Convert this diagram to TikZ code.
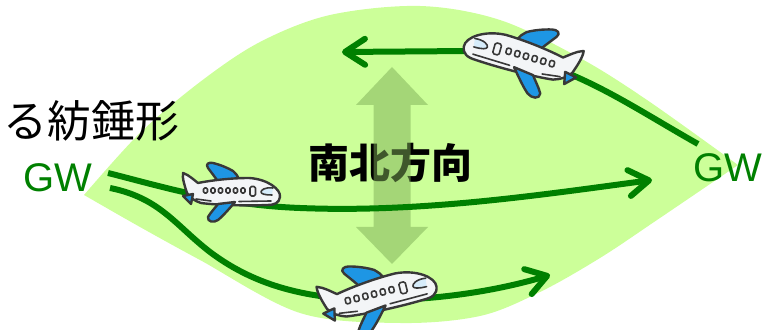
\documentclass[tikz,border=0pt]{standalone}
\usepackage{fontspec}
\setmainfont{Liberation Sans}
\newfontfamily\jpfont{Noto Sans CJK JP}
\usetikzlibrary{arrows.meta}

\definecolor{leaf}{RGB}{204,255,153}
\definecolor{route}{RGB}{0,128,0}
\definecolor{nsgreen}{RGB}{126,175,87}
\definecolor{hull}{RGB}{243,245,247}
\definecolor{ink}{RGB}{56,56,56}
\definecolor{wingblue}{RGB}{30,150,228}
\definecolor{glass}{RGB}{214,236,250}

\tikzset{
  outl/.style={draw=ink, line width=1.2pt, line join=round, line cap=round},
  wingc/.style={outl, fill=wingblue},
  hullc/.style={outl, fill=hull},
  detail/.style={draw=ink, line width=0.8pt, line cap=round, line join=round},
  routeline/.style={draw=route, line width=3pt,
    -{Straight Barb[length=10pt,width=13pt,round]}},
  gw/.style={text=route, font=\fontsize{20}{24}\selectfont, inner sep=0pt},
  % cartoon airliner, nose to the right, local units = pixels, y downwards
  plane/.pic={
    % far wing, behind the hull
    \path[wingc] (-12,-9) .. controls (-16,-15) and (-20,-20) .. (-23,-24)
       .. controls (-26,-28) and (-22,-30) .. (-18,-29)
       .. controls (-10,-27) and (-3,-24) .. (2,-21)
       .. controls (5,-18) and (7,-16) .. (8,-13) -- cycle;
    % hull with tail fin
    \path[hullc] (-48,-19)
       .. controls (-42,-17) and (-37,-12) .. (-33,-9)
       .. controls (-18,-12) and (2,-14) .. (18,-14)
       .. controls (36,-13) and (50,-3) .. (49,5)
       .. controls (48,11) and (44,13) .. (36,13)
       .. controls (15,14) and (-15,13) .. (-30,11)
       .. controls (-36,9) and (-41,6) .. (-44,1)
       .. controls (-46,-5) and (-49,-14) .. (-48,-19) -- cycle;
    % tail stabiliser
    \path[wingc] (-48,4) -- (-38,2) -- (-40,12) -- cycle;
    % near wing
    \path[wingc] (4,10) .. controls (-2,17) and (-8,24) .. (-13,28)
       .. controls (-17,31) and (-24,30) .. (-23,25)
       .. controls (-20,20) and (-16,16) .. (-13,12) -- cycle;
    % cabin windows and door
    \foreach \k in {0,...,5}
      \draw[detail, fill=hull, rounded corners=0.6pt] (-27.5+7.5*\k,-4) rectangle +(4,5);
    \draw[detail, fill=hull, rounded corners=0.8pt] (19,-5.5) rectangle (24.5,4);
    % cockpit glass
    \path[detail, fill=glass] (42,-4) .. controls (34,-5) and (30,-2) .. (30,0)
       .. controls (30,2) and (34,3) .. (41,3);
    % panel lines
    \draw[detail] (-35,7) -- (-20,9);
    \draw[detail] (8,9.5) -- (40,9);
  }
}

\begin{document}
\begin{tikzpicture}[x=0.5pt,y=-0.5pt]
\useasboundingbox (0,0) rectangle (776,330);

% spindle-shaped region
\fill[leaf]
  plot[smooth, tension=0.55] coordinates {(84,195) (140,133) (200,82) (260,42)
      (330,15) (420,6) (500,20) (580,58) (647,100) (738,165)}
  -- plot[smooth, tension=0.55] coordinates {(738,165) (657,220) (600,258)
      (540,292) (480,316) (400,323) (300,313) (200,260) (140,227) (84,195)}
  -- cycle;

% labels
\node[anchor=west, inner sep=0pt, font=\jpfont\fontsize{22}{26}\selectfont]
  (title) at (3,121) {る紡錘形};
\node[gw] (gwL) at (58,178) {GW};
\node[gw] (gwR) at (728,168) {GW};
\node[font=\jpfont\bfseries\fontsize{20.5}{24}\selectfont] (dir) at (390,163) {南北方向};

% north-south double arrow, translucent over the label
\fill[nsgreen, fill opacity=0.5] (392,67) -- (428,105) -- (410.5,105) -- (410.5,227)
  -- (428,227) -- (392,264) -- (356,227) -- (373.5,227) -- (373.5,105)
  -- (356,105) -- cycle;

% route end points
\coordinate (m0) at (108,173);
\coordinate (m1) at (652,180);
\coordinate (b0) at (110,188);
\coordinate (b1) at (550,275);
\coordinate (t0) at (698,144);
\coordinate (t1) at (342,52);

% routes
\draw[routeline] (m0) .. controls (160,186) and (220,205) .. (300,208)
  .. controls (420,213) and (540,195) .. (m1);
\draw[routeline] (b0) .. controls (160,198) and (175,225) .. (210,252)
  .. controls (250,282) and (300,300) .. (380,300)
  .. controls (440,300) and (500,290) .. (b1);
\draw[routeline] (t0) .. controls (620,100) and (560,55) .. (470,51) -- (t1);

% airliners
\pic (pA) at (231,192) {plane};
\pic[rotate=14, scale=1.2] (pB) at (378,295) {plane};
\pic[rotate=-16, xscale=-1.2, yscale=1.2] (pC) at (522,57) {plane};
\end{tikzpicture}
\end{document}
